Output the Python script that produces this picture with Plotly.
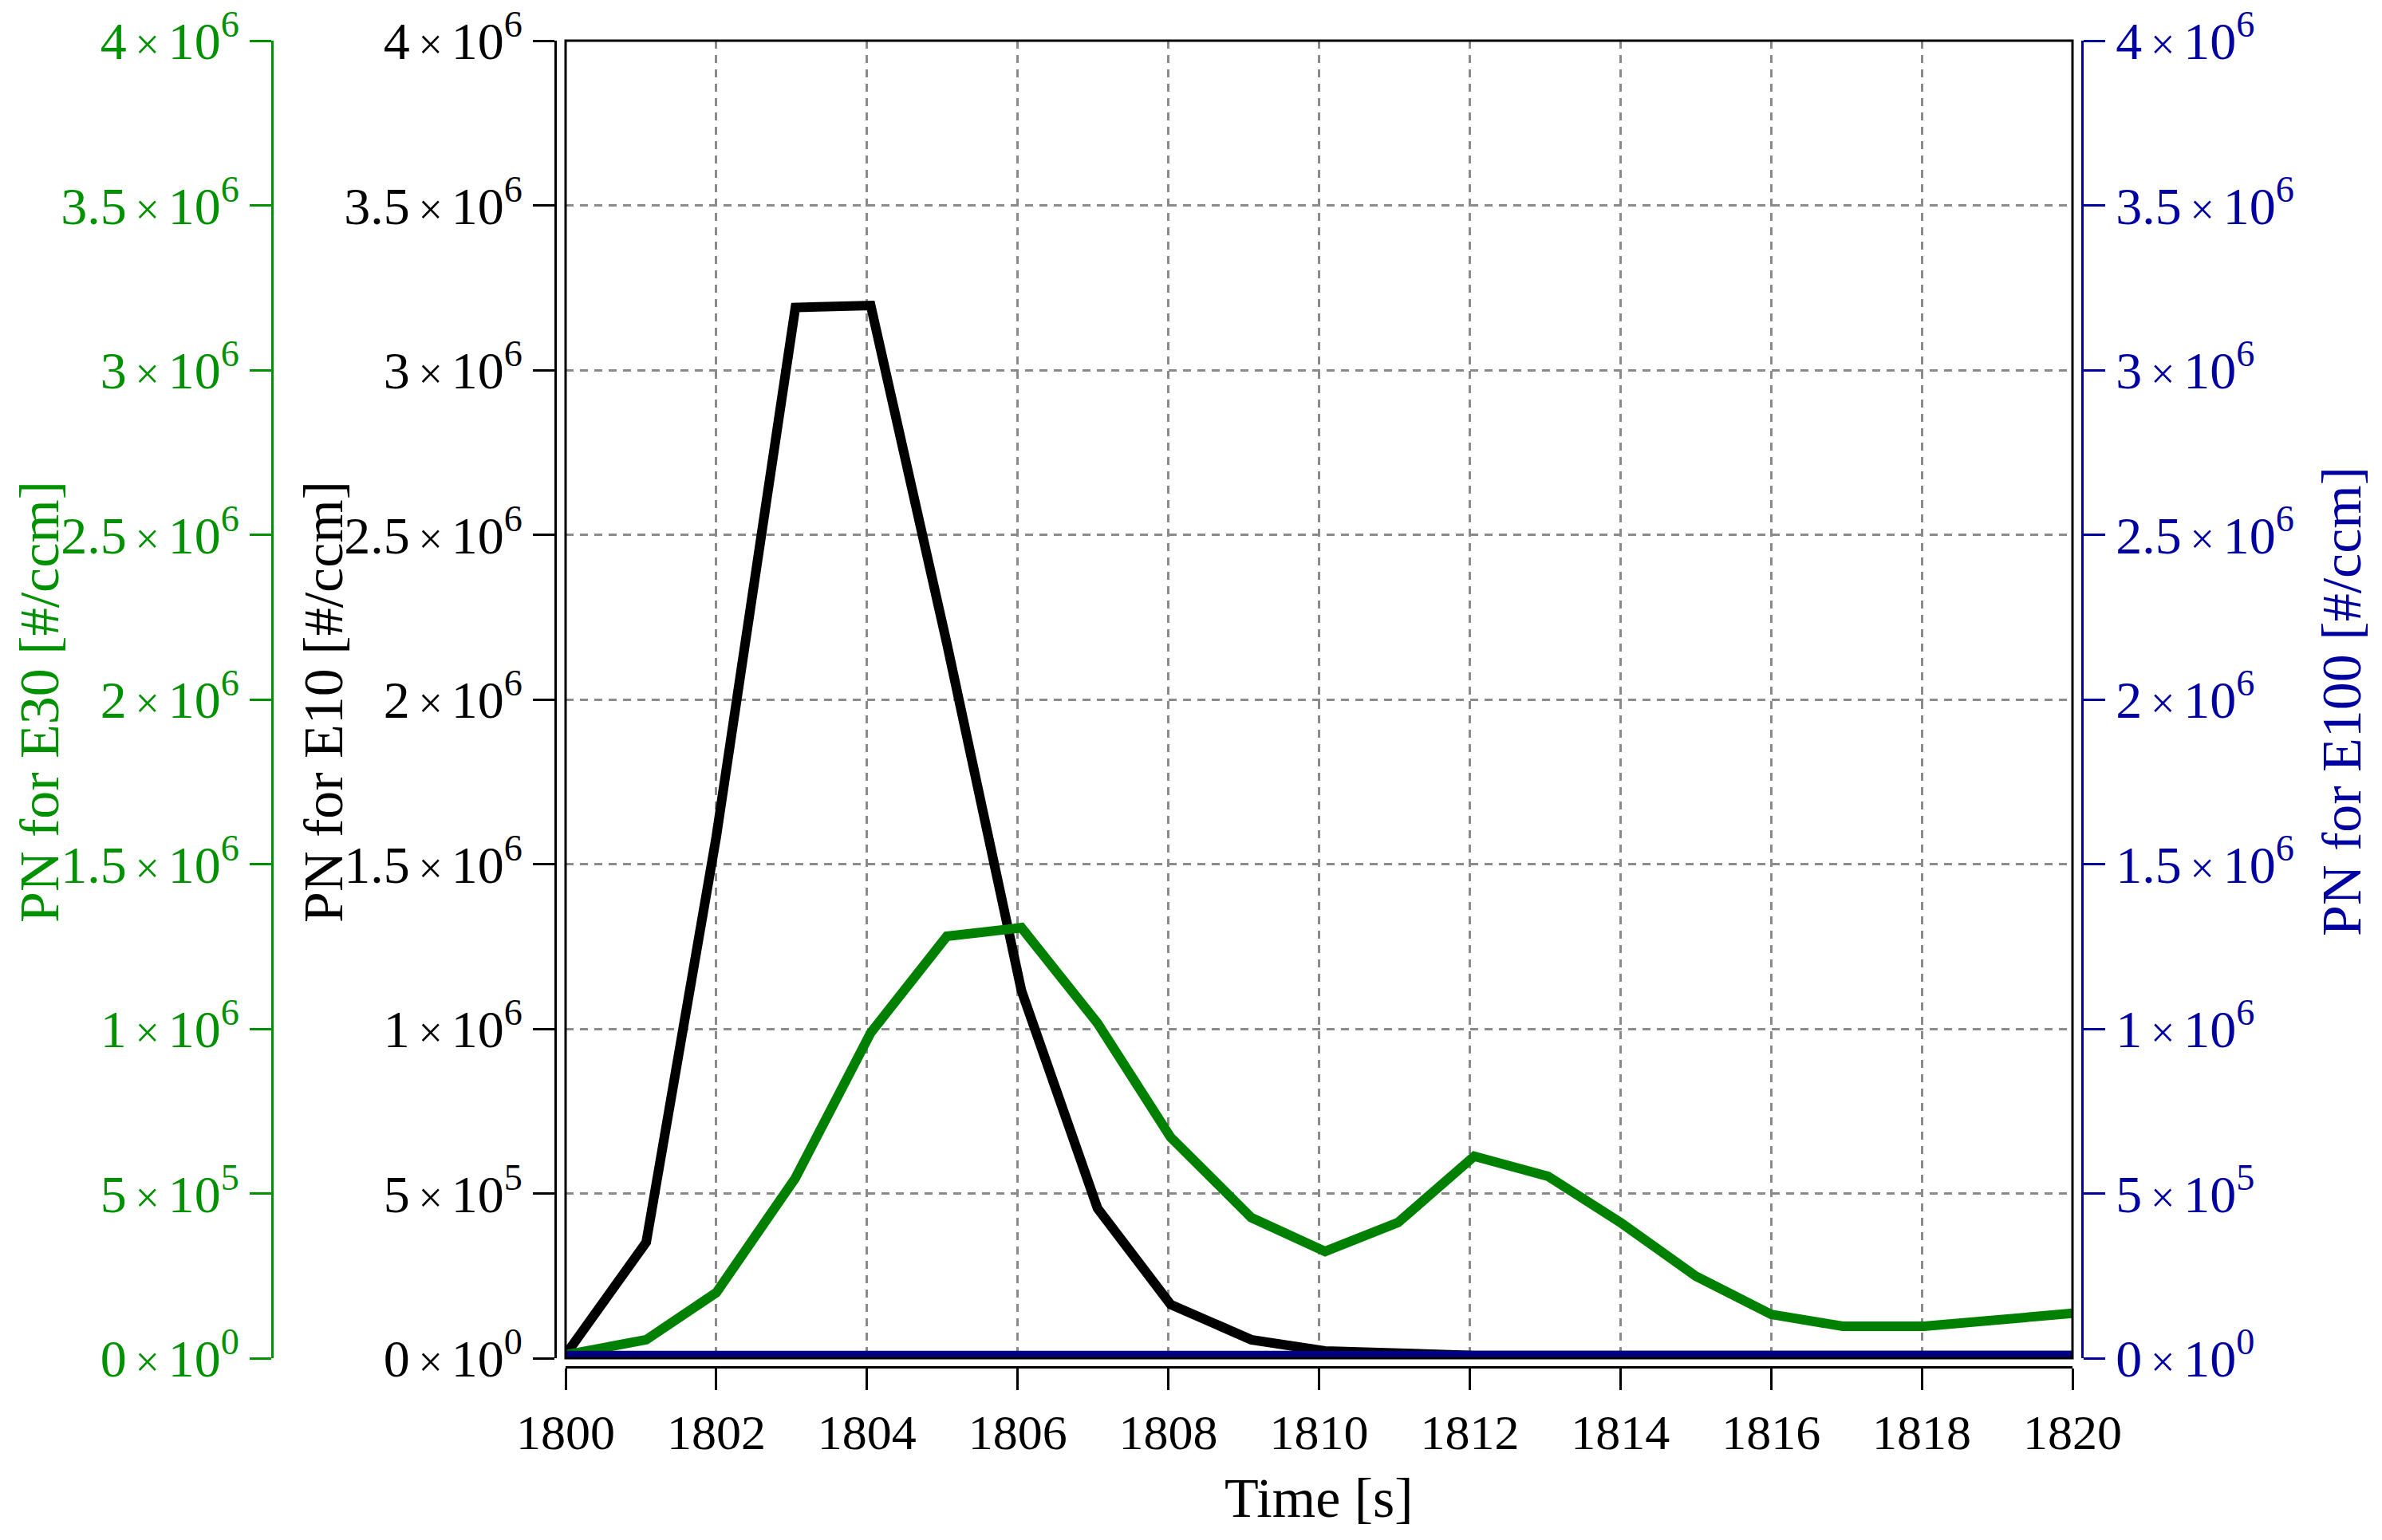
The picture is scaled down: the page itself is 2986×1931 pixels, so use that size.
import plotly.graph_objects as go

# ---------------- data ----------------
time_s = [1800.0, 1801.07, 1802.0, 1803.05, 1804.05, 1805.06, 1806.05, 1807.06,
          1808.03, 1809.1, 1810.08, 1811.05, 1812.06, 1813.04, 1814.0, 1815.0,
          1816.0, 1816.95, 1818.03, 1819.0, 1820.0]

pn_e30 = [10000, 56000, 199000, 547000, 988000, 1281000, 1307000, 1017000,
          671000, 427000, 324000, 412000, 613000, 552000, 412000, 249000,
          133000, 97000, 97000, 116000, 136000]

pn_e10 = [10000, 352000, 1583000, 3190000, 3196000, 2170000, 1116000, 455000,
          163000, 56000, 22000, 14000, 8000, 8000, 8000, 8000,
          8000, 8000, 8000, 8000, 8000]

pn_e100 = [10000, 10000, 10000, 10000, 10000, 10000, 10000, 10000,
           10000, 10000, 10000, 10000, 10000, 10000, 10000, 10000,
           10000, 10000, 10000, 10000, 10000]

x_ticks = [1800, 1802, 1804, 1806, 1808, 1810, 1812, 1814, 1816, 1818, 1820]
y_ticks = [0, 500000, 1000000, 1500000, 2000000, 2500000, 3000000, 3500000, 4000000]
y_mantissa = ["0", "5", "1", "1.5", "2", "2.5", "3", "3.5", "4"]
y_exponent = ["0", "5", "6", "6", "6", "6", "6", "6", "6"]

TIMES = '<span style="font-size:54px">\u2009×\u2009</span>'
y_ticktext = [m + TIMES + "10<sup>" + e + "</sup>" for m, e in zip(y_mantissa, y_exponent)]

# ---------------- layout geometry (page pixels; body has an 8px margin) ----------------
W, H = 2986, 1931
OFF = 8
def px(x):
    return (x - OFF) / W
def py(y):
    return 1 - (y - OFF) / H

X0, X1 = px(709), px(2598)
Y0, Y1 = py(1703), py(51)

FONT = "Liberation Serif, Times New Roman, serif"
GREEN_LINE = "#008000"
GREEN_TXT = "#009100"
NAVY_LINE = "#000080"
NAVY_TXT = "#0000A0"

fig = go.Figure()
fig.add_trace(go.Scatter(x=time_s, y=pn_e30, mode="lines", yaxis="y2",
                         line=dict(color=GREEN_LINE, width=12), name="E30"))
fig.add_trace(go.Scatter(x=time_s, y=pn_e10, mode="lines", yaxis="y",
                         line=dict(color="#000000", width=12), name="E10"))
fig.add_trace(go.Scatter(x=time_s, y=pn_e100, mode="lines", yaxis="y3",
                         line=dict(color=NAVY_LINE, width=10), name="E100"))

common_y = dict(range=[0, 4000000], tickvals=y_ticks, ticktext=y_ticktext,
                ticks="outside", ticklen=27, tickwidth=3, showline=True,
                linewidth=3, zeroline=False, automargin=False,
                ticklabeloverflow="allow",
                domain=[Y0, Y1], anchor="free")

fig.update_layout(
    width=W, height=H,
    template="none",
    paper_bgcolor="white", plot_bgcolor="white",
    margin=dict(l=0, r=0, t=0, b=0),
    showlegend=False,
    xaxis=dict(domain=[X0, X1], range=[1800, 1820], anchor="free",
               position=py(1714), tickvals=x_ticks, ticks="outside",
               ticklen=27, tickwidth=3, showline=True, linewidth=3,
               linecolor="black", tickcolor="black", zeroline=False,
               showgrid=True, gridcolor="#8a8a8a", gridwidth=2.5,
               griddash="10px,8px", automargin=False,
               ticklabeloverflow="allow",
               tickfont=dict(family=FONT, size=62, color="black")),
    yaxis=dict(**common_y, position=px(696), side="left",
               linecolor="black", tickcolor="black",
               showgrid=True, gridcolor="#8a8a8a", gridwidth=2.5,
               griddash="10px,8px",
               tickfont=dict(family=FONT, size=66, color="black")),
    yaxis2=dict(**common_y, position=px(341), side="left", overlaying="y",
                linecolor=GREEN_TXT, tickcolor=GREEN_TXT, showgrid=False,
                tickfont=dict(family=FONT, size=66, color=GREEN_TXT)),
    yaxis3=dict(**common_y, position=px(2610), side="right", overlaying="y",
                linecolor=NAVY_TXT, tickcolor=NAVY_TXT, showgrid=False,
                tickfont=dict(family=FONT, size=66, color=NAVY_TXT)),
    shapes=[dict(type="rect", xref="paper", yref="paper",
                 x0=X0, x1=X1, y0=Y0, y1=Y1,
                 line=dict(color="black", width=3), layer="above")],
    annotations=[
        dict(text="PN for E30 [#/ccm]", xref="paper", yref="paper",
             x=px(49), y=py(880), textangle=-90, showarrow=False,
             xanchor="center", yanchor="middle",
             font=dict(family=FONT, size=70, color=GREEN_TXT)),
        dict(text="PN for E10 [#/ccm]", xref="paper", yref="paper",
             x=px(405), y=py(880), textangle=-90, showarrow=False,
             xanchor="center", yanchor="middle",
             font=dict(family=FONT, size=70, color="black")),
        dict(text="PN for E100 [#/ccm]", xref="paper", yref="paper",
             x=px(2935), y=py(880), textangle=-90, showarrow=False,
             xanchor="center", yanchor="middle",
             font=dict(family=FONT, size=70, color=NAVY_TXT)),
        dict(text="Time [s]", xref="paper", yref="paper",
             x=px(1653), y=py(1878), showarrow=False,
             xanchor="center", yanchor="middle",
             font=dict(family=FONT, size=70, color="black")),
    ],
)

fig.write_html("out.html")
